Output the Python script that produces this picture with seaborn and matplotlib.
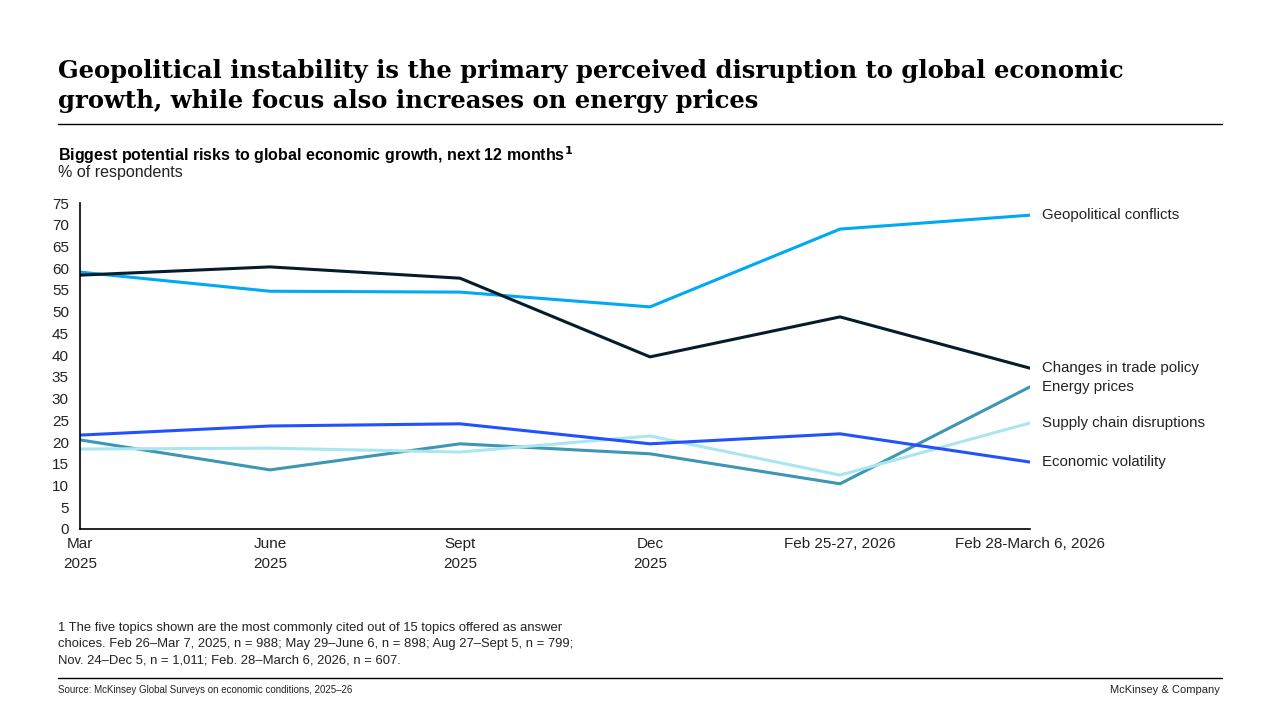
import pandas as pd
import matplotlib.pyplot as plt
import seaborn as sns

# dados
periodos = ['Mar\n2025', 'June\n2025', 'Sept\n2025', 'Dec\n2025', 'Feb 25-27, 2026', 'Feb 28-March 6, 2026']
geopolitical = [59.1, 54.7, 54.5, 51.1, 69.0, 72.2]
trade_policy = [58.4, 60.3, 57.7, 39.6, 48.8, 37.0]
energy = [20.5, 13.6, 19.6, 17.3, 10.4, 32.7]
supply_chain = [18.4, 18.6, 17.7, 21.4, 12.4, 24.4]
volatility = [21.6, 23.7, 24.2, 19.6, 21.9, 15.4]

series = {
    'Geopolitical conflicts': geopolitical,
    'Changes in trade policy': trade_policy,
    'Energy prices': energy,
    'Supply chain disruptions': supply_chain,
    'Economic volatility': volatility,
}
cores = {
    'Geopolitical conflicts': '#00A9F4',
    'Changes in trade policy': '#051C2C',
    'Energy prices': '#3C96B4',
    'Supply chain disruptions': '#AAE6F0',
    'Economic volatility': '#2251FF',
}

linhas = []
for nome, valores in series.items():
    for i, v in enumerate(valores):
        linhas.append({'idx': i, 'valor': v, 'serie': nome})
df = pd.DataFrame(linhas)

sns.set_theme(style="white")
plt.rcParams['font.family'] = ['Liberation Sans', 'DejaVu Sans']

fig = plt.figure(figsize=(12.8, 7.2), dpi=100)
ax = fig.add_axes([80 / 1280, 1 - 529 / 720, 950 / 1280, 326 / 720])

sns.lineplot(data=df, x='idx', y='valor', hue='serie', palette=cores,
             linewidth=2.2, legend=False, ax=ax, sort=False)

ax.set_xlim(0, len(periodos) - 1)
ax.set_ylim(0, 75)
ax.set_yticks(range(0, 80, 5))
ax.set_xticks(range(len(periodos)))
ax.set_xticklabels(periodos, fontsize=11, color='#222222', linespacing=1.5)
ax.tick_params(axis='y', labelsize=11, labelcolor='#222222', length=0, pad=8)
ax.tick_params(axis='x', length=0, pad=6)
ax.set_xlabel('')
ax.set_ylabel('')
for lado in ['top', 'right']:
    ax.spines[lado].set_visible(False)
for lado in ['left', 'bottom']:
    ax.spines[lado].set_color('black')
    ax.spines[lado].set_linewidth(1.2)

# rótulos no fim das linhas
for nome, valores in series.items():
    ax.annotate(nome, xy=(len(periodos) - 1, valores[-1]),
                xytext=(9, 0), textcoords='offset points',
                va='center', ha='left', fontsize=10.8, color='#222222',
                annotation_clip=False)

# títulos
fig.text(58 / 1280, 1 - 86 / 720,
         'Geopolitical instability is the primary perceived disruption to global economic\n'
         'growth, while focus also increases on energy prices',
         fontsize=17.5, fontweight='bold', family=['DejaVu Serif'], color='black',
         va='center', ha='left', linespacing=1.3)
fig.add_artist(plt.Line2D([58 / 1280, 1222 / 1280], [1 - 124 / 720] * 2,
                          color='black', linewidth=1))
fig.text(58 / 1280, 1 - 155 / 720,
         'Biggest potential risks to global economic growth, next 12 months$^{\\mathbf{1}}$',
         fontsize=11.5, fontweight='bold', color='black', va='center', ha='left')
fig.text(58 / 1280, 1 - 173 / 720, '% of respondents',
         fontsize=11.5, color='#222222', va='center', ha='left')

# nota de rodapé
fig.text(58 / 1280, 1 - 644 / 720,
         '1 The five topics shown are the most commonly cited out of 15 topics offered as answer\n'
         'choices. Feb 26\u2013Mar 7, 2025, n = 988; May 29\u2013June 6, n = 898; Aug 27\u2013Sept 5, n = 799;\n'
         'Nov. 24\u2013Dec 5, n = 1,011; Feb. 28\u2013March 6, 2026, n = 607.',
         fontsize=9.4, color='#222222', va='center', ha='left', linespacing=1.5)
fig.add_artist(plt.Line2D([58 / 1280, 1222 / 1280], [1 - 678 / 720] * 2,
                          color='black', linewidth=1))
fig.text(58 / 1280, 1 - 690 / 720,
         'Source: McKinsey Global Surveys on economic conditions, 2025\u201326',
         fontsize=7, color='#222222', va='center', ha='left')
fig.text(1220 / 1280, 1 - 690 / 720, 'McKinsey & Company',
         fontsize=8, color='#222222', va='center', ha='right')

plt.savefig('out.png', dpi=100)
plt.close()
